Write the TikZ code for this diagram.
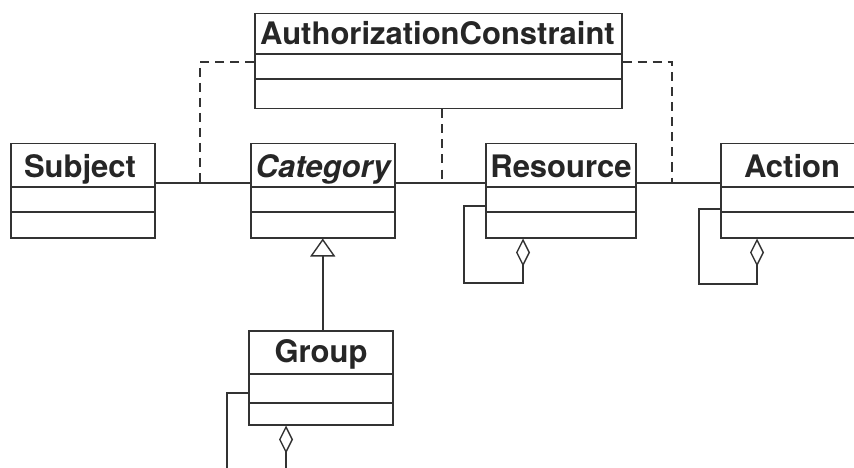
\documentclass[tikz,border=0pt]{standalone}
\usepackage{fontspec}
\newfontfamily\hv{TeX Gyre Heros}
\usetikzlibrary{arrows.meta,calc}
\definecolor{ink}{HTML}{333333}
\definecolor{txt}{HTML}{262626}
\tikzset{
  cls/.style={draw=ink, line width=1.5pt, rectangle, inner sep=0pt, anchor=north west},
  sep/.style={draw=ink, line width=1.2pt},
  assoc/.style={draw=ink, line width=1.5pt},
  dep/.style={draw=ink, line width=1.4pt, dash pattern=on 9pt off 6pt},
  lbl/.style={anchor=base, inner sep=0pt, text=txt, font=\hv\bfseries\fontsize{31}{36}\selectfont},
  agg/.style={assoc, -{Diamond[open, length=28pt, width=14pt, line width=1.4pt]}},
  gen/.style={assoc, -{Triangle[open, length=18pt, width=25pt, line width=1.4pt]}}
}
\begin{document}
\begin{tikzpicture}[x=1pt, y=-1pt]
\useasboundingbox (0,0) rectangle (854,468);
\clip (0,0) rectangle (854,468);
\fill[white] (0,0) rectangle (854,468);

% class boxes
\node[cls, minimum width=367pt, minimum height=95pt] (auth) at (254,13) {};
\node[cls, minimum width=144pt, minimum height=94pt] (subject) at (10,143) {};
\node[cls, minimum width=144pt, minimum height=94pt] (category) at (250,143) {};
\node[cls, minimum width=150pt, minimum height=94pt] (resource) at (485,143) {};
\node[cls, minimum width=144pt, minimum height=94pt] (action) at (720,143) {};
\node[cls, minimum width=144pt, minimum height=94pt] (group) at (248,330) {};

% compartment separators
\foreach \b/\a/\c in {auth/41/66, subject/44/69, category/44/69, resource/44/69, action/44/69, group/44/73}{
  \draw[sep] ($(\b.north west)+(0,\a)$) -- ($(\b.north east)+(0,\a)$);
  \draw[sep] ($(\b.north west)+(0,\c)$) -- ($(\b.north east)+(0,\c)$);
}

% class names
\node[lbl] (tauth) at (437.5,45) {AuthorizationConstraint};
\node[lbl] (tsubject) at (80,177) {Subject};
\node[lbl, font=\hv\bfseries\itshape\fontsize{31}{36}\selectfont] (tcategory) at (323,177) {Category};
\node[lbl] (tresource) at (561,177) {Resource};
\node[lbl] (taction) at (792,177) {Action};
\node[lbl] (tgroup) at (321,362) {Group};

% association chain
\coordinate (j1) at (200,183);
\coordinate (j2) at (442,183);
\coordinate (j3) at (672,183);
\draw[assoc] ($(subject.north east)+(0,40)$) -- ($(category.north west)+(0,40)$);
\draw[assoc] ($(category.north east)+(0,40)$) -- ($(resource.north west)+(0,40)$);
\draw[assoc] ($(resource.north east)+(0,40)$) -- ($(action.north west)+(0,40)$);

% association class links
\draw[dep] ($(auth.north west)+(0,49)$) -| (j1);
\draw[dep] ($(auth.north east)+(0,49)$) -| (j3);
\draw[dep] (auth.south -| j2) -- (j2);

% generalization
\draw[gen] (group.north -| category.south) -- (category.south);

% self aggregations
\coordinate (rc) at (464,283);
\draw[agg] ($(resource.north west)+(0,63)$) -| (rc) -| ($(resource.south west)+(38,0)$);
\coordinate (ac) at (699,284);
\draw[agg] ($(action.north west)+(0,66)$) -| (ac) -| ($(action.south west)+(37,0)$);
\coordinate (gl) at (227,480);
\coordinate (gd) at (286,480);
\draw[assoc] ($(group.north west)+(0,63)$) -| (gl);
\draw[agg] (gd) -- (gd |- group.south);
\end{tikzpicture}
\end{document}
